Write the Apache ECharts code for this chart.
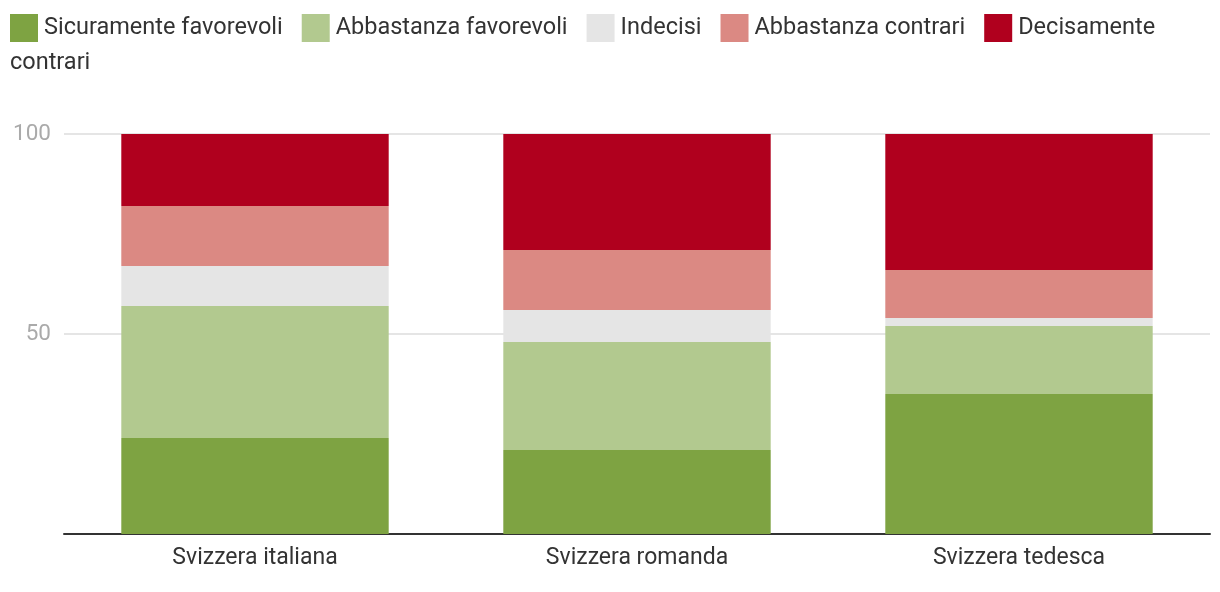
<!DOCTYPE html>
<html>
<head>
<meta charset="utf-8">
<script src="https://cdn.jsdelivr.net/npm/echarts@6/dist/echarts.min.js"></script>
<style>
html,body{margin:0;padding:0;background:#fff;}
#chart{width:1220px;height:592px;}
</style>
</head>
<body>
<div id="chart"></div>
<script>
const categories = ['Svizzera italiana', 'Svizzera romanda', 'Svizzera tedesca'];
const seriesNames = ['Sicuramente favorevoli', 'Abbastanza favorevoli', 'Indecisi', 'Abbastanza contrari', 'Decisamente contrari'];
const sicuramenteFavorevoli = [24, 21, 35];
const abbastanzaFavorevoli = [33, 27, 17];
const indecisi = [10, 8, 2];
const abbastanzaContrari = [15, 15, 12];
const decisamenteContrari = [18, 29, 34];
const yTicks = [50, 100];
const colors = ['#7ea342', '#b2c98f', '#e5e5e5', '#db8983', '#b0001e'];

const values = [sicuramenteFavorevoli, abbastanzaFavorevoli, indecisi, abbastanzaContrari, decisamenteContrari];
const FONT = 'Roboto';

const chart = echarts.init(document.getElementById('chart'));
chart.setOption({
  animation: false,
  color: colors,
  textStyle: { fontFamily: FONT },
  legend: {
    left: 10, top: 14, padding: 0,
    itemWidth: 28, itemHeight: 28, itemGap: 19,
    icon: 'rect',
    selectedMode: false,
    textStyle: { fontSize: 23.5, color: '#333', fontFamily: FONT, padding: [0, 0, 4, 1] },
    formatter: function (name) { return name === 'Decisamente contrari' ? 'Decisamente' : name; },
    data: seriesNames
  },
  graphic: [{
    type: 'text', left: 10, top: 51,
    style: { text: 'contrari', fontSize: 23.5, fill: '#333', fontFamily: FONT }
  }],
  grid: { left: 64, right: 10, top: 134, bottom: 58, containLabel: false },
  xAxis: {
    type: 'category',
    data: categories,
    axisLine: { lineStyle: { color: '#333', width: 2 } },
    axisTick: { show: false },
    axisLabel: { fontSize: 23, color: '#333', margin: 13, fontFamily: FONT }
  },
  yAxis: {
    type: 'value', min: 0, max: 100, interval: 50,
    axisLine: { show: false }, axisTick: { show: false },
    splitLine: { lineStyle: { color: '#e5e5e5', width: 2 } },
    axisLabel: {
      fontSize: 22.5, color: '#aaa', margin: 13, fontFamily: FONT,
      formatter: function (v) { return yTicks.indexOf(v) >= 0 ? String(v) : ''; }
    }
  },
  series: seriesNames.map(function (n, i) {
    return {
      name: n, type: 'bar', stack: 'total',
      barCategoryGap: '30%',
      data: values[i],
      itemStyle: { color: colors[i] }
    };
  })
});
</script>
</body>
</html>
